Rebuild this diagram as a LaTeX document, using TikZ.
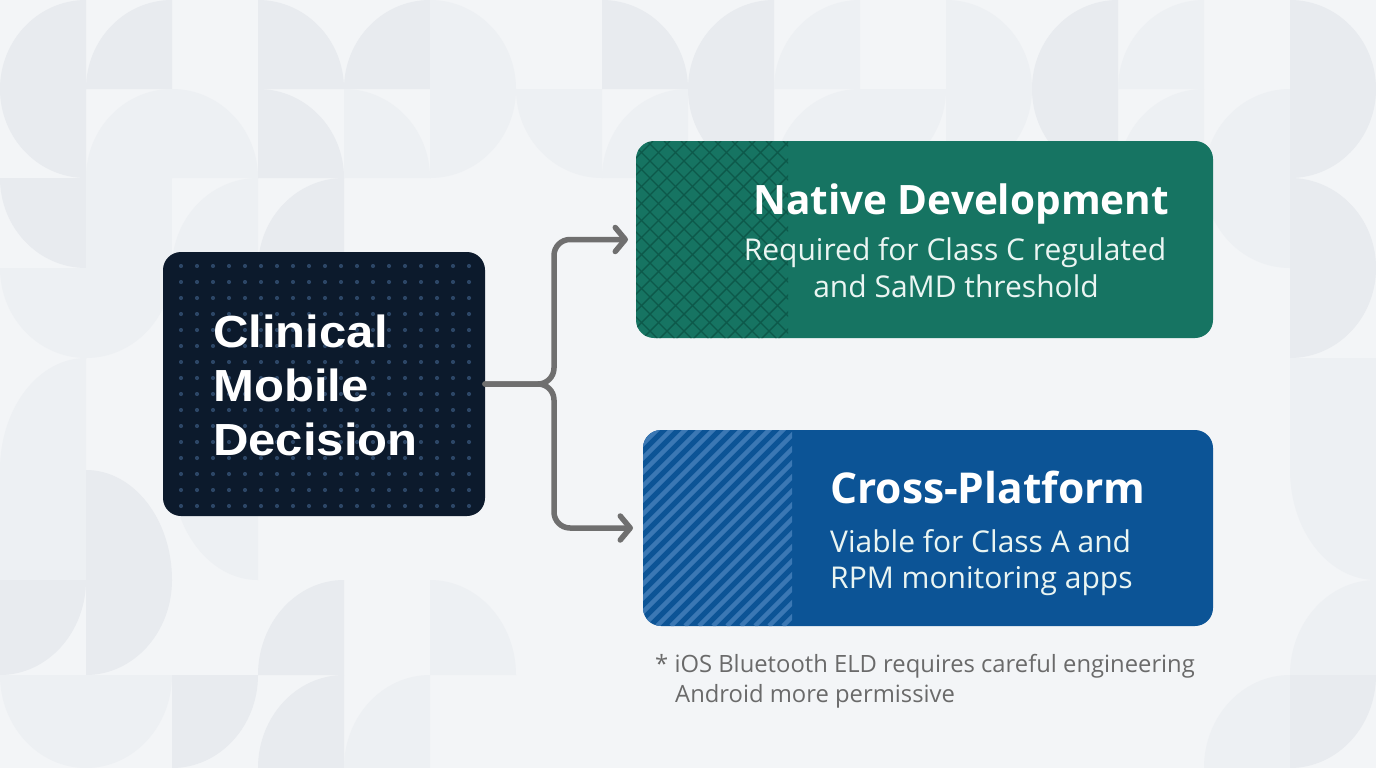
\documentclass[tikz,border=0pt]{standalone}
\usepackage{fontspec}
\setmainfont{Open Sans}
\newfontfamily\decfont{Liberation Sans}[FakeStretch=1.09]
\usetikzlibrary{arrows.meta}
\definecolor{bgbase}{HTML}{F3F5F7}
\definecolor{shA}{HTML}{E8EBEF}
\definecolor{shB}{HTML}{EDF0F3}
\definecolor{darkbox}{HTML}{0C1A2C}
\definecolor{dotc}{HTML}{2C4666}
\definecolor{greenbox}{HTML}{167462}
\definecolor{hatchc}{HTML}{0D594A}
\definecolor{bluebox}{HTML}{0C5496}
\definecolor{stripec}{HTML}{3B78B4}
\definecolor{arrowgray}{HTML}{6F6F6F}
\definecolor{notegray}{HTML}{6A6A6A}
\definecolor{subwhite}{HTML}{EAF5F2}
\def\rowtops{{0,89,178,268,358,470,580,675,768}}
\newcommand\cellA[1]{\fill[#1] (\xa,\yb) .. controls (\xa,\yb-\kh) and (\xb-\kw,\ya) .. (\xb,\ya) -- (\xb,\yb) -- cycle;}
\newcommand\cellB[1]{\fill[#1] (\xb,\yb) .. controls (\xb,\yb-\kh) and (\xa+\kw,\ya) .. (\xa,\ya) -- (\xa,\yb) -- cycle;}
\newcommand\cellC[1]{\fill[#1] (\xb,\ya) .. controls (\xb,\ya+\kh) and (\xa+\kw,\yb) .. (\xa,\yb) -- (\xa,\ya) -- cycle;}
\newcommand\cellD[1]{\fill[#1] (\xa,\ya) .. controls (\xa,\ya+\kh) and (\xb-\kw,\yb) .. (\xb,\yb) -- (\xb,\ya) -- cycle;}
\newcommand\cellF[1]{\fill[#1] (\xa,\ya) rectangle (\xb,\yb);}
\tikzset{
  box/.style={rounded corners=18pt, minimum width=#1, inner sep=0pt, outer sep=0pt},
  conn/.style={draw=arrowgray, line width=5.5pt, rounded corners=16pt, line cap=round,
    -{Straight Barb[length=10pt,width=24pt,line cap=round,line join=round]}},
  hatch/.style={draw=hatchc, line width=1.4pt},
  stripe/.style={draw=stripec, line width=4.5pt},
  dectxt/.style={font=\decfont\bfseries\fontsize{45}{54}\selectfont, text=white, inner sep=0pt, anchor=base west},
  ttl/.style={font=\bfseries\fontsize{#1}{46}\selectfont, text=white, inner sep=0pt},
  sub/.style={font=\fontsize{30}{36}\selectfont, text=subwhite, inner sep=0pt},
  note/.style={font=\fontsize{23.8}{30}\selectfont, text=notegray, inner sep=0pt, anchor=base west}
}
\begin{document}
\begin{tikzpicture}[x=1pt,y=-1pt]
\useasboundingbox (0,0) rectangle (1376,768);
\fill[bgbase] (0,0) rectangle (1376,768);
% background pattern
\foreach \c/\r/\t/\s in {
 0/0/A/A,1/0/A/A,3/0/B/A,4/0/A/A,5/0/B/B,7/0/B/A,8/0/A/A,9/0/A/B,11/0/B/B,12/0/A/A,13/0/A/B,15/0/B/A,
 0/1/D/A,1/1/A/B,2/1/B/B,3/1/B/A,4/1/B/B,5/1/C/B,6/1/D/B,7/1/A/B,8/1/D/A,9/1/A/B,10/1/C/B,11/1/C/B,12/1/D/A,13/1/A/B,14/1/A/B,15/1/C/A,
 0/2/D/A,1/2/F/B,2/2/A/B,3/2/A/A,14/2/D/B,15/2/B/A,
 0/3/D/B,1/3/C/B,15/3/C/A,
 0/4/A/B,15/4/F/B,
 0/5/F/B,1/5/B/A,2/5/D/B,15/5/D/B,
 0/6/C/A,1/6/C/A,3/6/A/A,5/6/B/B,15/6/A/B,
 0/7/D/B,1/7/C/B,2/7/C/A,3/7/A/A,4/7/A/B,14/7/A/B,15/7/C/A}{
  \pgfmathsetmacro\xa{\c*86}
  \pgfmathsetmacro\xb{\c*86+86}
  \pgfmathsetmacro\ya{\rowtops[\r]}
  \pgfmathsetmacro\yb{\rowtops[\r+1]}
  \pgfmathsetmacro\kw{0.5523*86}
  \pgfmathsetmacro\kh{0.5523*(\yb-\ya)}
  \csname cell\t\endcsname{sh\s}
}
% boxes
\node[box=322pt, minimum height=264pt, fill=darkbox] (dec) at (324,384) {};
\node[box=577pt, minimum height=197pt, fill=greenbox] (nat) at (924.5,239.5) {};
\node[box=570pt, minimum height=196pt, fill=bluebox] (cross) at (928,528) {};
% dots in dark box
\begin{scope}
\clip[rounded corners=18pt] (dec.south west) rectangle (dec.north east);
\foreach \i in {0,...,18}{\foreach \j in {0,...,15}{
  \fill[dotc] (181+\i*16,266+\j*16) circle (2.1pt);}}
\end{scope}
% crosshatch
\begin{scope}
\clip[rounded corners=18pt] (nat.south west) rectangle (nat.north east);
\clip (nat.south west) rectangle ([xshift=152pt]nat.north west);
\foreach \i in {0,...,24}{\draw[hatch] ([xshift={(\i*17-210)*1pt}]nat.north west) -- ++(230,230);}
\foreach \i in {0,...,23}{\draw[hatch] ([xshift={(\i*17)*1pt}]nat.north west) -- ++(-230,230);}
\end{scope}
% stripes
\begin{scope}
\clip[rounded corners=18pt] (cross.south west) rectangle (cross.north east);
\clip (cross.south west) rectangle ([xshift=149pt]cross.north west);
\foreach \i in {0,...,26}{\draw[stripe] ([xshift={(\i*14-210)*1pt}]cross.south west) -- ++(230,-230);}
\end{scope}
% texts
\node[dectxt] (d1) at (213,347) {Clinical};
\node[dectxt] (d2) at (213,401) {Mobile};
\node[dectxt] (d3) at (213,455) {Decision};
\node[ttl=40.5, anchor=base] (nt) at (961,214) {Native Development};
\node[sub, anchor=base] (ns1) at (955,260) {Required for Class C regulated};
\node[sub, anchor=base] (ns2) at (956,297) {and SaMD threshold};
\node[ttl=42.5, anchor=base west] (ct) at (830,503) {Cross-Platform};
\node[sub, anchor=base west] (cs1) at (830,552) {Viable for Class A and};
\node[sub, anchor=base west] (cs2) at (830,588) {RPM monitoring apps};
\node[note] (n1) at (655,672) {* iOS Bluetooth ELD requires careful engineering};
\node[note] (n2) at (675,702) {Android more permissive};
% connectors
\coordinate (j) at (554,384);
\draw[conn, shorten >=8pt] (dec.east) -- (j) |- (nat.west);
\draw[conn, shorten >=10pt] (dec.east) -- (j) |- (cross.west);
\end{tikzpicture}
\end{document}
